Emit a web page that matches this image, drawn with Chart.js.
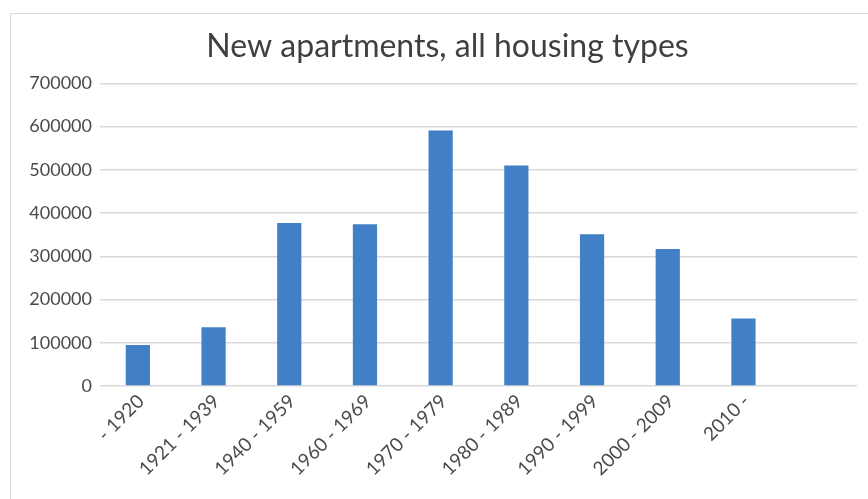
<!DOCTYPE html>
<html>
<head>
<meta charset="utf-8">
<script src="https://cdn.jsdelivr.net/npm/chart.js@4"></script>
<style>
  html, body { margin: 0; padding: 0; background: #ffffff; }
  #wrap { position: absolute; left: 0; top: 0; width: 868px; height: 499px; }
  #frame { position: absolute; left: 10px; top: 13px; width: 870px; height: 500px;
           border-left: 1px solid #d9d9d9; border-top: 1px solid #d9d9d9; pointer-events: none; }
</style>
</head>
<body>
<div id="wrap"><canvas id="c" width="868" height="499"></canvas></div>
<div id="frame"></div>
<script>
const titleText = "New apartments, all housing types";
const categories = ["- 1920", "1921 - 1939", "1940 - 1959", "1960 - 1969", "1970 - 1979",
                    "1980 - 1989", "1990 - 1999", "2000 - 2009", "2010 -"];
const apartments = [95000, 136000, 377000, 374000, 591000, 510000, 351000, 317000, 156000];
const yTicks = [0, 100000, 200000, 300000, 400000, 500000, 600000, 700000];

const labels = categories.concat([""]);
const values = apartments.concat([null]);

const shiftTitle = {
  id: 'shiftTitle',
  afterLayout(chart) {
    const t = chart.titleBlock;
    if (t) { t.left = 38; t.right = chart.chartArea.right; }
  }
};

new Chart(document.getElementById('c'), {
  type: 'bar',
  data: {
    labels: labels,
    datasets: [{
      data: values,
      backgroundColor: '#4180c6',
      borderWidth: 0,
      categoryPercentage: 1.0,
      barPercentage: 0.32
    }]
  },
  plugins: [shiftTitle],
  options: {
    responsive: false,
    animation: false,
    devicePixelRatio: 1,
    layout: { padding: { top: 27, right: 11, left: 0, bottom: 0 } },
    plugins: {
      legend: { display: false },
      tooltip: { enabled: false },
      title: {
        display: true,
        text: titleText,
        color: '#404040',
        font: { family: 'Lato', size: 32, weight: 'normal', lineHeight: 1.2 },
        padding: { top: 0, bottom: 18 }
      }
    },
    scales: {
      x: {
        grid: { display: false, drawTicks: false },
        border: { display: false },
        ticks: {
          color: '#4a4a4a',
          font: { family: 'Lato', size: 19 },
          maxRotation: 45, minRotation: 45,
          autoSkip: false,
          padding: 4,
          labelOffset: 3
        },
        afterFit: function(scale) { scale.height = 113; }
      },
      y: {
        min: 0, max: 700000,
        afterBuildTicks: function(scale) { scale.ticks = yTicks.map(v => ({ value: v })); },
        grid: { color: '#d9d9d9', lineWidth: 1.5, drawTicks: false },
        border: { display: false },
        ticks: {
          color: '#4a4a4a',
          font: { family: 'Lato', size: 18 },
          padding: 8,
          callback: function(v) { return String(v); }
        },
        afterFit: function(scale) { scale.width = 100; }
      }
    }
  }
});
</script>
</body>
</html>
